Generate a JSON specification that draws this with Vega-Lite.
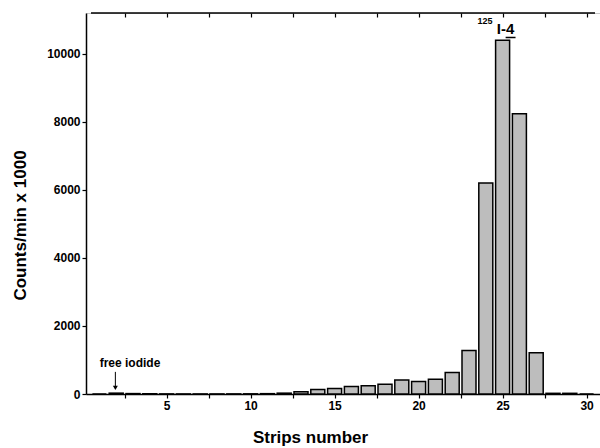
{
  "$schema": "https://vega.github.io/schema/vega-lite/v6.json",
  "width": 514,
  "height": 381,
  "autosize": "none",
  "padding": {"left": 86, "top": 13, "right": 0, "bottom": 54},
  "background": "white",
  "config": {
    "font": "Liberation Sans",
    "view": {"stroke": "#c8c8c8", "strokeWidth": 1},
    "axis": {"grid": false, "domainColor": "black", "tickColor": "black", "labelColor": "black", "titleColor": "black", "labelFont": "Liberation Sans", "titleFont": "Liberation Sans", "labelFontWeight": "bold", "titleFontWeight": "bold", "labelFontSize": 12, "titleFontSize": 17, "domainWidth": 1.5, "tickWidth": 1.2, "tickSize": 4}
  },
  "datasets": {
    "bars": [
      {"strip": 1, "counts": 0}, {"strip": 2, "counts": 25}, {"strip": 3, "counts": 12},
      {"strip": 4, "counts": 5}, {"strip": 5, "counts": 3}, {"strip": 6, "counts": 2},
      {"strip": 7, "counts": 2}, {"strip": 8, "counts": 2}, {"strip": 9, "counts": 3},
      {"strip": 10, "counts": 5}, {"strip": 11, "counts": 10}, {"strip": 12, "counts": 25},
      {"strip": 13, "counts": 65}, {"strip": 14, "counts": 135}, {"strip": 15, "counts": 165},
      {"strip": 16, "counts": 220}, {"strip": 17, "counts": 245}, {"strip": 18, "counts": 290},
      {"strip": 19, "counts": 410}, {"strip": 20, "counts": 370}, {"strip": 21, "counts": 430},
      {"strip": 22, "counts": 635}, {"strip": 23, "counts": 1280}, {"strip": 24, "counts": 6200},
      {"strip": 25, "counts": 10400}, {"strip": 26, "counts": 8240}, {"strip": 27, "counts": 1215},
      {"strip": 28, "counts": 20}, {"strip": 29, "counts": 20}, {"strip": 30, "counts": 0}
    ]
  },
  "layer": [
    {
      "data": {"name": "bars"},
      "mark": {"type": "bar", "size": 14, "fill": "#bdbdbd", "stroke": "black", "strokeWidth": 1.5},
      "encoding": {
        "x": {"field": "strip", "type": "quantitative", "scale": {"domain": [0.5, 30.5], "nice": false, "zero": false},
              "axis": {"orient": "bottom", "title": "Strips number", "values": [2.5, 5, 7.5, 10, 12.5, 15, 17.5, 20, 22.5, 25, 27.5, 30], "labelExpr": "datum.value % 5 === 0 ? datum.label : ''", "labelPadding": 2, "titleX": 224, "titleY": 35, "titleBaseline": "top", "titleAlign": "center"}},
        "y": {"field": "counts", "type": "quantitative", "scale": {"domain": [0, 11200], "nice": false},
              "axis": {"title": "Counts/min x 1000", "values": [0, 1000, 2000, 3000, 4000, 5000, 6000, 7000, 8000, 9000, 10000, 11000], "labelExpr": "datum.value % 2000 === 0 ? datum.value : ''", "titleX": -66, "titleY": 212, "titleBaseline": "middle", "titleAlign": "center", "titleFontSize": 17}}
      }
    },
    {
      "data": {"name": "bars"},
      "mark": {"type": "point", "opacity": 0},
      "encoding": {
        "x": {"field": "strip", "type": "quantitative",
              "axis": {"orient": "top", "title": null, "labels": false, "tickSize": 4, "offset": -4, "domain": false, "values": [2.5, 5, 7.5, 10, 12.5, 15, 17.5, 20, 22.5, 25, 27.5, 30]}},
        "y": {"field": "counts", "type": "quantitative"}
      }
    },
    {
      "data": {"values": [{"x": 0.5, "x2": 30.5, "y": 11200}]},
      "mark": {"type": "rule", "color": "black", "strokeWidth": 1.5},
      "encoding": {"x": {"field": "x", "type": "quantitative", "axis": null}, "x2": {"field": "x2"}, "y": {"field": "y", "type": "quantitative"}}
    },
    {
      "data": {"values": [{"x": 2.82, "y": 920, "t": "free iodide"}]},
      "mark": {"type": "text", "fontSize": 12, "fontWeight": "bold", "font": "Liberation Sans", "color": "black"},
      "encoding": {"x": {"field": "x", "type": "quantitative", "axis": null}, "y": {"field": "y", "type": "quantitative"}, "text": {"field": "t"}}
    },
    {
      "data": {"values": [{"x": 1.95, "y": 650, "y2": 230}]},
      "mark": {"type": "rule", "color": "black", "strokeWidth": 1},
      "encoding": {"x": {"field": "x", "type": "quantitative", "axis": null}, "y": {"field": "y", "type": "quantitative"}, "y2": {"field": "y2"}}
    },
    {
      "data": {"values": [{"x": 1.95, "y": 180}]},
      "mark": {"type": "point", "shape": "triangle-down", "filled": true, "color": "black", "size": 25, "opacity": 1},
      "encoding": {"x": {"field": "x", "type": "quantitative", "axis": null}, "y": {"field": "y", "type": "quantitative"}}
    },
    {
      "data": {"values": [{"x": 23.95, "y": 10955, "t": "125"}]},
      "mark": {"type": "text", "fontSize": 9, "fontWeight": "bold", "font": "Liberation Sans", "color": "black"},
      "encoding": {"x": {"field": "x", "type": "quantitative", "axis": null}, "y": {"field": "y", "type": "quantitative"}, "text": {"field": "t"}}
    },
    {
      "data": {"values": [{"x": 25.18, "y": 10720, "t": "I-4"}]},
      "mark": {"type": "text", "fontSize": 15, "fontWeight": "bold", "font": "Liberation Sans", "color": "black"},
      "encoding": {"x": {"field": "x", "type": "quantitative", "axis": null}, "y": {"field": "y", "type": "quantitative"}, "text": {"field": "t"}}
    },
    {
      "data": {"values": [{"x": 25.18, "x2": 25.77, "y": 10480}]},
      "mark": {"type": "rule", "color": "black", "strokeWidth": 1.5},
      "encoding": {"x": {"field": "x", "type": "quantitative", "axis": null}, "x2": {"field": "x2"}, "y": {"field": "y", "type": "quantitative"}}
    }
  ]
}
